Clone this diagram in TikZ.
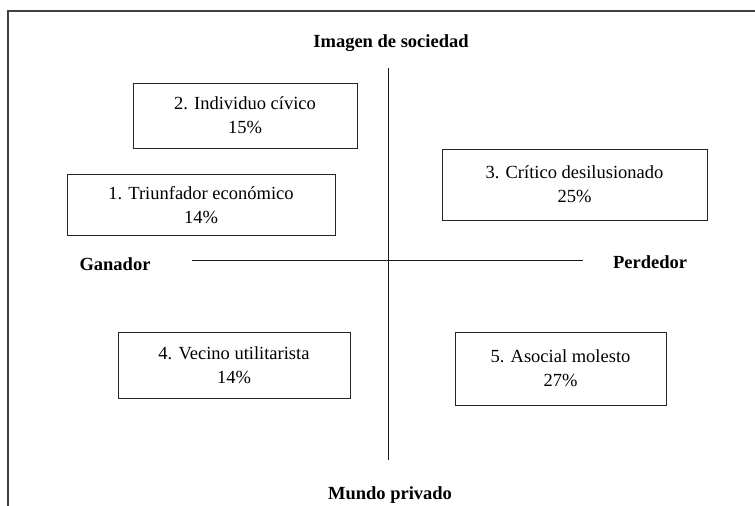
\documentclass[tikz,border=0pt]{standalone}
\usepackage{fontspec}
\setmainfont{Liberation Serif}
\begin{document}
\begin{tikzpicture}[x=1pt,y=-1pt,
  typebox/.style={draw=black!85, line width=0.9pt, inner sep=0pt, align=center,
    font=\fontsize{18.5}{24}\selectfont},
  axislabel/.style={inner sep=0pt, font=\fontsize{18.5}{22}\selectfont\bfseries},
  axisline/.style={draw=black!90, line width=1pt},
  framestyle/.style={draw=black!75, line width=1.4pt}]
\useasboundingbox (0,0) rectangle (755,506);
% frame (cut off at right and bottom)
\coordinate (frtr) at (758,11);
\coordinate (frtl) at (8,11);
\coordinate (frbl) at (8,509);
\draw[framestyle] (frtr) -- (frtl) -- (frbl);
% axes
\coordinate (vtop) at (388,68);
\coordinate (vbot) at (388,460);
\coordinate (hleft) at (192,260);
\coordinate (hright) at (583,260);
\draw[axisline] (vtop) -- (vbot);
\draw[axisline] (hleft) -- (hright);
% axis labels
\node[axislabel, anchor=base] (top) at (391,47) {Imagen de sociedad};
\node[axislabel, anchor=base] (bottom) at (390,499) {Mundo privado};
\node[axislabel, anchor=base] (left) at (115,270) {Ganador};
\node[axislabel, anchor=base] (right) at (650,268) {Perdedor};
% boxes
\node[typebox, minimum width=224pt, minimum height=65pt] (b2) at (245,115.5)
  {2. Individuo cívico\\15\%};
\node[typebox, minimum width=268pt, minimum height=61pt] (b1) at (201,205)
  {1. Triunfador económico\\14\%};
\node[typebox, minimum width=265pt, minimum height=71pt] (b3) at (574.5,184.5)
  {3. Crítico desilusionado\\25\%};
\node[typebox, minimum width=232pt, minimum height=66pt] (b4) at (234,365)
  {4. Vecino utilitarista\\14\%};
\node[typebox, minimum width=211pt, minimum height=73pt] (b5) at (560.5,368.5)
  {5. Asocial molesto\\27\%};
\end{tikzpicture}
\end{document}
